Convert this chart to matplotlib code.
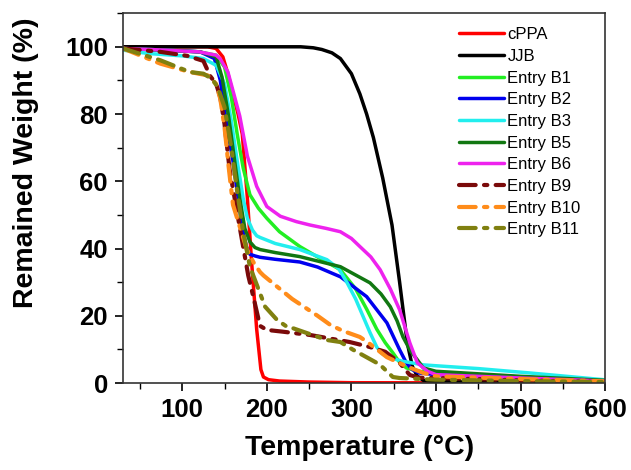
import matplotlib.pyplot as plt
from matplotlib.ticker import MultipleLocator

plt.rcParams['font.family'] = ['Liberation Sans', 'DejaVu Sans']

# Datos (temperatura en C, peso remanente en %)
t_cppa = [30, 130, 140, 148, 154, 160, 166, 171, 177, 182, 188, 193, 196, 202, 215, 250, 300, 600]
w_cppa = [100, 100, 99.5, 97, 92, 86, 80, 74, 55, 36, 16, 4, 1.8, 1.0, 0.6, 0.3, 0.1, 0]

t_jjb = [30, 240, 255, 265, 277, 287, 300, 310, 318, 326, 337, 348, 357, 366, 372, 378, 385, 400, 600]
w_jjb = [100, 100, 99.7, 99.2, 98.2, 96.5, 92, 86, 80, 73, 61, 47, 30, 12, 5, 2, 0.8, 0.4, 0.2]

t_b1 = [30, 80, 120, 140, 150, 158, 165, 172, 180, 190, 200, 215, 239, 260, 287, 305, 318, 330, 340, 349, 356, 365, 380, 400, 500, 600]
w_b1 = [99.5, 99, 98.5, 97.5, 94, 85, 74, 64, 56, 52, 49, 45, 40.6, 37.5, 33.7, 28, 22, 16, 12, 9, 6.5, 4.5, 3.5, 3, 1.8, 0.7]

t_b2 = [30, 80, 121, 138, 145, 153, 160, 165, 171, 176, 180, 186, 192, 210, 239, 260, 287, 318, 342, 357, 365, 372, 380, 400, 500, 600]
w_b2 = [99.5, 99, 98.5, 96.5, 90, 76, 66, 57, 46, 40.5, 38.3, 37.8, 37.4, 36.8, 36, 34.5, 31.6, 25.7, 17.9, 9.9, 6, 4, 3, 2.5, 1.5, 0.5]

t_b3 = [30, 60, 100, 125, 140, 150, 158, 165, 172, 177, 183, 188, 192, 210, 239, 271, 285, 295, 305, 314, 322, 330, 336, 342, 360, 385, 450, 511, 598]
w_b3 = [99, 98, 97.3, 96.5, 94.5, 89, 78, 66, 55, 49, 45.5, 43.8, 43.3, 41.5, 39.7, 36.7, 34, 29.8, 25, 19.7, 15, 10.7, 8.8, 7.8, 6.5, 5.4, 4.3, 3, 1]

t_b5 = [30, 80, 121, 140, 147, 155, 162, 168, 174, 180, 186, 192, 210, 239, 287, 322, 335, 346, 354, 361, 370, 378, 385, 400, 500, 600]
w_b5 = [99.5, 99, 98.5, 97, 91, 79, 66, 55, 46, 42, 40.3, 39.7, 38.8, 37.6, 34.6, 29.8, 26.5, 22.7, 18.5, 13.7, 9.5, 6.9, 4.5, 3.5, 2, 0.8]

t_b6 = [30, 80, 120, 140, 145, 154, 161, 168, 177, 188, 200, 216, 235, 251, 270, 287, 300, 310, 323, 334, 346, 357, 369, 378, 390, 400, 500, 600]
w_b6 = [99.5, 99, 98.5, 97.5, 96.4, 92.5, 86, 79.4, 67.5, 58.5, 52.5, 49.6, 48, 47, 46, 45, 43, 40.6, 37.5, 33.7, 28, 21.8, 12, 6, 3.5, 2.5, 1.5, 0.6]

t_b9 = [30, 74, 106, 125, 133, 140, 145, 150, 156, 164, 172, 178, 184, 192, 200, 218, 251, 298, 322, 340, 357, 369, 380, 400, 500, 600]
w_b9 = [99.5, 98.5, 97.3, 95.8, 91.3, 89, 85, 77, 63.5, 52, 40.6, 32, 25.7, 17, 15.8, 15.3, 14.3, 12.2, 10.7, 9.3, 6, 2.4, 1.6, 1.5, 0.8, 0.3]

t_b10 = [30, 74, 109, 130, 140, 145, 150, 155, 160, 168, 176, 184, 192, 196, 230, 260, 275, 290, 310, 320, 342, 365, 385, 400, 500, 600]
w_b10 = [99.5, 95, 92.5, 91.5, 89, 84.5, 76, 64, 53, 46.5, 40, 36, 33, 32, 25, 20, 17.3, 15.5, 13.7, 12, 7.7, 5, 3, 2, 1.2, 0.5]

t_b11 = [30, 74, 109, 125, 135, 142, 150, 158, 165, 172, 180, 190, 198, 212, 224, 231, 271, 287, 302, 330, 334, 349, 357, 400, 500, 600]
w_b11 = [99.5, 96, 92.5, 92, 90.5, 88, 82, 70, 57, 45, 34.6, 28, 22.7, 18.8, 16.7, 16.3, 12.8, 12.2, 9.9, 6, 5.4, 1.8, 1.5, 1, 0.6, 0.3]

series = [
    ('cPPA', t_cppa, w_cppa, '#ff0000', '-'),
    ('JJB', t_jjb, w_jjb, '#000000', '-'),
    ('Entry B1', t_b1, w_b1, '#22ee22', '-'),
    ('Entry B2', t_b2, w_b2, '#0000ee', '-'),
    ('Entry B3', t_b3, w_b3, '#22eeee', '-'),
    ('Entry B5', t_b5, w_b5, '#117711', '-'),
    ('Entry B6', t_b6, w_b6, '#ee22ee', '-'),
    ('Entry B9', t_b9, w_b9, '#7a0a0a', '-.'),
    ('Entry B10', t_b10, w_b10, '#ff8c1a', '-.'),
    ('Entry B11', t_b11, w_b11, '#808010', '-.'),
]

fig = plt.figure(figsize=(6.31, 4.70), dpi=100)
ax = fig.add_axes([0.195, 0.185, 0.764, 0.787])

for nombre, t, w, color, estilo in series:
    if estilo == '-':
        ax.plot(t, w, color=color, lw=2.5, label=nombre, solid_capstyle='round')
    else:
        ax.plot(t, w, color=color, lw=3.0, label=nombre, dashes=(4, 2, 0.8, 2),
                dash_capstyle='round')

ax.set_xlim(30, 600)
ax.set_ylim(0, 110)
ax.xaxis.set_major_locator(MultipleLocator(100))
ax.xaxis.set_minor_locator(MultipleLocator(50))
ax.yaxis.set_major_locator(MultipleLocator(20))
ax.yaxis.set_minor_locator(MultipleLocator(10))
ax.tick_params(which='major', direction='out', length=6, width=1.2, labelsize=18.5, pad=5)
ax.tick_params(which='minor', direction='out', length=4, width=1.0)
for lab in ax.get_xticklabels() + ax.get_yticklabels():
    lab.set_fontweight('bold')
for s in ax.spines.values():
    s.set_linewidth(1.2)
    s.set_color('#333333')

ax.set_xlabel('Temperature (°C)', fontsize=20.5, fontweight='bold')
ax.set_ylabel('Remained Weight (%)', fontsize=20.5, fontweight='bold')
ax.xaxis.set_label_coords(0.49, -0.14)
ax.yaxis.set_label_coords(-0.175, 0.595)

ax.legend(loc='upper right', frameon=False, fontsize=12, handlelength=2.7,
          handletextpad=0.2, labelspacing=0.4, borderaxespad=0,
          bbox_to_anchor=(0.963, 0.98))

plt.savefig('out.png', dpi=100)
